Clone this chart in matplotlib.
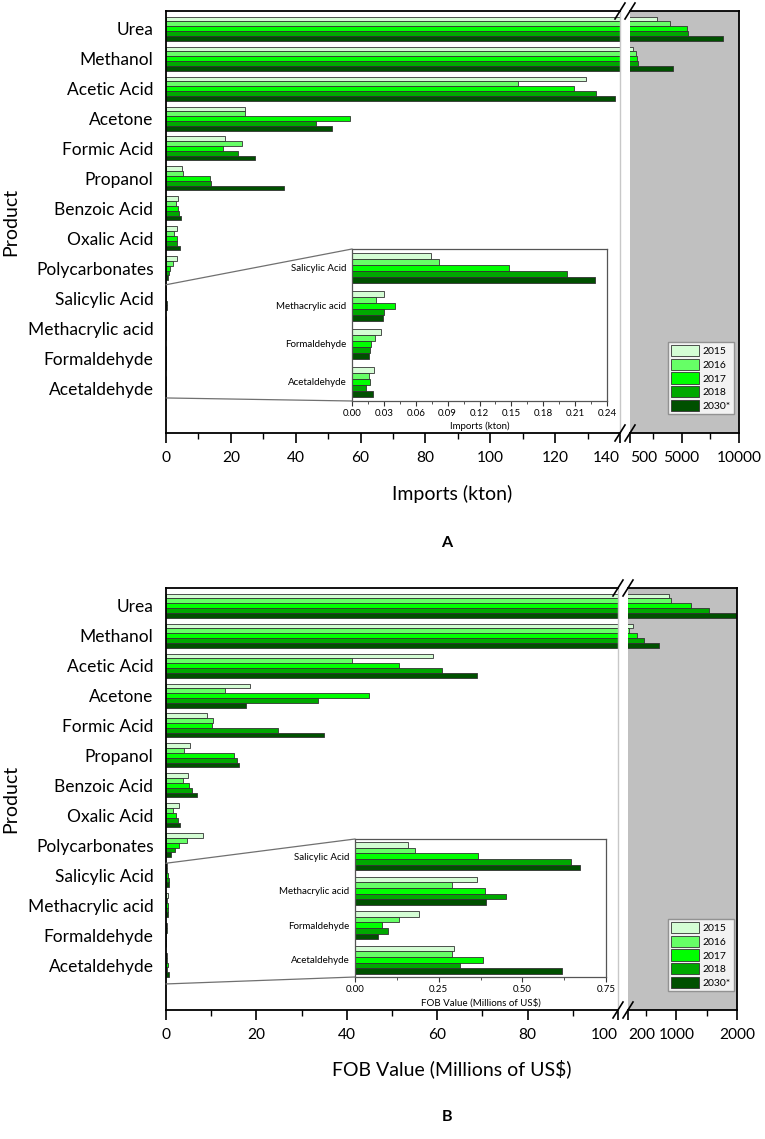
import matplotlib
matplotlib.use("Agg")
import matplotlib.pyplot as plt
import numpy as np
from matplotlib.lines import Line2D
from matplotlib.patches import ConnectionPatch, Patch
from matplotlib.ticker import FixedLocator

plt.rcParams['font.family'] = ['Lato', 'DejaVu Sans']

products = ['Urea', 'Methanol', 'Acetic Acid', 'Acetone', 'Formic Acid', 'Propanol',
            'Benzoic Acid', 'Oxalic Acid', 'Polycarbonates', 'Salicylic Acid',
            'Methacrylic acid', 'Formaldehyde', 'Acetaldehyde']
years = ['2015', '2016', '2017', '2018', '2030*']
colors = ['#d4fdd4', '#66ff66', '#00ff00', '#00a800', '#005000']

imports_2015 = [2850, 800, 129.4, 24.5, 18.1, 5.0, 3.8, 3.5, 3.5, 0.074, 0.030, 0.027, 0.021]
imports_2016 = [3970, 1020, 108.5, 24.5, 23.3, 5.3, 3.2, 2.6, 2.1, 0.082, 0.023, 0.022, 0.016]
imports_2017 = [5470, 1140, 125.9, 56.8, 17.7, 13.6, 3.8, 3.5, 1.2, 0.148, 0.040, 0.018, 0.017]
imports_2018 = [5550, 1220, 132.6, 46.4, 22.3, 13.9, 4.0, 3.5, 0.8, 0.202, 0.030, 0.017, 0.013]
imports_2030 = [8630, 4250, 138.6, 51.2, 27.5, 36.5, 4.7, 4.2, 0.5, 0.229, 0.029, 0.016, 0.020]

fob_2015 = [885, 278, 59.1, 18.5, 9.1, 5.3, 4.9, 2.85, 8.1, 0.159, 0.365, 0.192, 0.296]
fob_2016 = [903, 215, 41.2, 13.0, 10.5, 4.0, 3.8, 1.6, 4.6, 0.180, 0.289, 0.131, 0.289]
fob_2017 = [1242, 355, 51.6, 45.0, 10.1, 15.0, 5.0, 2.3, 2.8, 0.367, 0.387, 0.081, 0.383]
fob_2018 = [1533, 470, 61.1, 33.6, 24.8, 15.6, 5.7, 2.6, 2.1, 0.646, 0.452, 0.0995, 0.315]
fob_2030 = [1990, 718, 68.8, 17.6, 35.0, 16.1, 6.8, 3.2, 1.1, 0.673, 0.391, 0.069, 0.619]

left_ticks_a = [0, 20, 40, 60, 80, 100, 120, 140]
right_ticks_a = [500, 5000, 10000]
right_minor_a = [2500, 7500]
inset_ticks_a = [0.00, 0.03, 0.06, 0.09, 0.12, 0.15, 0.18, 0.21, 0.24]

left_ticks_b = [0, 20, 40, 60, 80, 100]
right_ticks_b = [200, 1000, 2000]
right_minor_b = [500, 1500]
inset_ticks_b = [0.00, 0.25, 0.50, 0.75]

W, H = 765, 1139
fig = plt.figure(figsize=(W / 100, H / 100), dpi=100)


def fx(px):
    return px / W


def fy(py):
    return 1 - py / H


EDGE = '#333333'
NB = len(years)
BH = 0.8 / NB


def draw_bars(ax, series, idx):
    for j, vals in enumerate(series):
        v = [vals[i] for i in idx]
        pos = [k - 0.4 + BH * (j + 0.5) for k in range(len(idx))]
        ax.barh(pos, v, height=BH, color=colors[j], edgecolor=EDGE, linewidth=0.6,
                label=years[j], zorder=2)


def panel(series, top, bottom, x0, g0, g1, x1, lticks, rlim, rticks, rminor,
          xlabel, letter, xlabel_y, letter_y,
          inset_box, inset_ticks, inset_lim, inset_fmt, inset_minor, zoom_y, legend_top):
    hpx = bottom - top
    ax1 = fig.add_axes([fx(x0), fy(bottom), (g0 - x0) / W, hpx / H])
    ax2 = fig.add_axes([fx(g1), fy(bottom), (x1 - g1) / W, hpx / H])
    idx = list(range(len(products)))
    for ax in (ax1, ax2):
        draw_bars(ax, series, idx)
        ax.set_ylim(13.5, -0.59)
        for s in ax.spines.values():
            s.set_linewidth(1.3)
            s.set_color('black')
        ax.tick_params(axis='x', which='major', direction='out', length=7, width=1.2,
                       labelsize=11.2, pad=6)
        ax.tick_params(axis='x', which='minor', direction='out', length=4, width=1.0)
    ax2.set_facecolor('#c0c0c0')
    ax1.spines['right'].set_color('#c8c8c8')
    ax1.spines['right'].set_linewidth(1.0)
    ax2.spines['left'].set_visible(False)

    ax1.set_xlim(0, lticks[-1])
    ax1.set_xticks(lticks, [str(t) for t in lticks])
    ax1.xaxis.set_minor_locator(FixedLocator([t + (lticks[1] - lticks[0]) / 2 for t in lticks[:-1]]))
    ax1.get_xticklabels()[-1].set_horizontalalignment('right')
    ax1.set_yticks(idx, products)
    ax1.tick_params(axis='y', length=0, pad=9, labelsize=12.5)

    ax2.set_xlim(*rlim)
    ax2.set_xticks(rticks, [str(t) for t in rticks])
    ax2.xaxis.set_minor_locator(FixedLocator(rminor))
    ax2.get_xticklabels()[0].set_horizontalalignment('left')
    ax2.set_yticks([])

    # break marks
    for yb in (top, bottom):
        for xc in (g0, g1):
            fig.add_artist(Line2D([fx(xc - 5), fx(xc + 5)], [fy(yb + 8), fy(yb - 8)],
                                  color='black', lw=1.2, transform=fig.transFigure))

    fig.text(fx(11), fy((top + bottom) / 2), 'Product', rotation=90, ha='center',
             va='center', fontsize=14)
    fig.text(fx((x0 + x1) / 2), fy(xlabel_y), xlabel, ha='center', va='center', fontsize=14)
    fig.text(fx(447), fy(letter_y), letter, ha='center', va='center', fontsize=11.5,
             fontweight='bold')

    # inset
    il, it, ir, ib = inset_box
    axi = fig.add_axes([fx(il), fy(ib), (ir - il) / W, (ib - it) / H])
    sub = list(range(9, 13))
    draw_bars(axi, series, sub)
    axi.set_ylim(3.5, -0.5)
    axi.set_xlim(*inset_lim)
    axi.set_yticks(range(4), [products[i] for i in sub])
    axi.tick_params(axis='y', length=0, pad=4, labelsize=7)
    axi.set_xticks(inset_ticks, [inset_fmt.format(t) for t in inset_ticks])
    axi.xaxis.set_minor_locator(FixedLocator(inset_minor))
    axi.tick_params(axis='x', which='major', length=3.5, width=0.8, labelsize=7, pad=2,
                    colors='#333333', labelcolor='black')
    axi.tick_params(axis='x', which='minor', length=2, width=0.6, colors='#333333')
    axi.set_xlabel(xlabel, fontsize=7, labelpad=3)
    for s in axi.spines.values():
        s.set_color('#555555')
        s.set_linewidth(0.9)
    axi.set_facecolor('white')
    for ya, yb2 in ((zoom_y[0], 1), (zoom_y[1], 0)):
        con = ConnectionPatch(xyA=(0, ya), coordsA=ax1.transData, xyB=(0, yb2),
                              coordsB=axi.transAxes, color='#707070', lw=0.9)
        fig.add_artist(con)

    handles = [Patch(facecolor=colors[j], edgecolor=EDGE, linewidth=0.6) for j in range(NB)]
    leg = ax2.legend(handles, years, loc='upper left',
                     bbox_to_anchor=(fx(668), fy(legend_top)), bbox_transform=fig.transFigure,
                     fontsize=7.5, frameon=True, fancybox=False, handlelength=2.7,
                     handleheight=1.3, handletextpad=0.3, labelspacing=0.22,
                     borderpad=0.3, borderaxespad=0)
    leg.get_frame().set_edgecolor('#808080')
    leg.get_frame().set_linewidth(1.0)
    return ax1, ax2, axi


series_a = [imports_2015, imports_2016, imports_2017, imports_2018, imports_2030]
series_b = [fob_2015, fob_2016, fob_2017, fob_2018, fob_2030]

panel(series_a, 11, 433, 166, 620, 630, 739, left_ticks_a, (500, 10000), right_ticks_a,
      right_minor_a, 'Imports (kton)', 'A', 494, 543,
      (352, 249, 607, 401), inset_ticks_a, (0, 0.24), '{:.2f}',
      [0.015 + 0.03 * k for k in range(8)], (8.55, 12.33), 342)

panel(series_b, 588, 1010, 166, 618, 628, 737, left_ticks_b, (200, 2000), right_ticks_b,
      right_minor_b, 'FOB Value (Millions of US$)', 'B', 1069, 1117,
      (355, 839, 606, 977), inset_ticks_b, (0, 0.75), '{:.2f}',
      [0.125, 0.375, 0.625], (8.6, 12.63), 919)

fig.savefig('out.png', dpi=100)
